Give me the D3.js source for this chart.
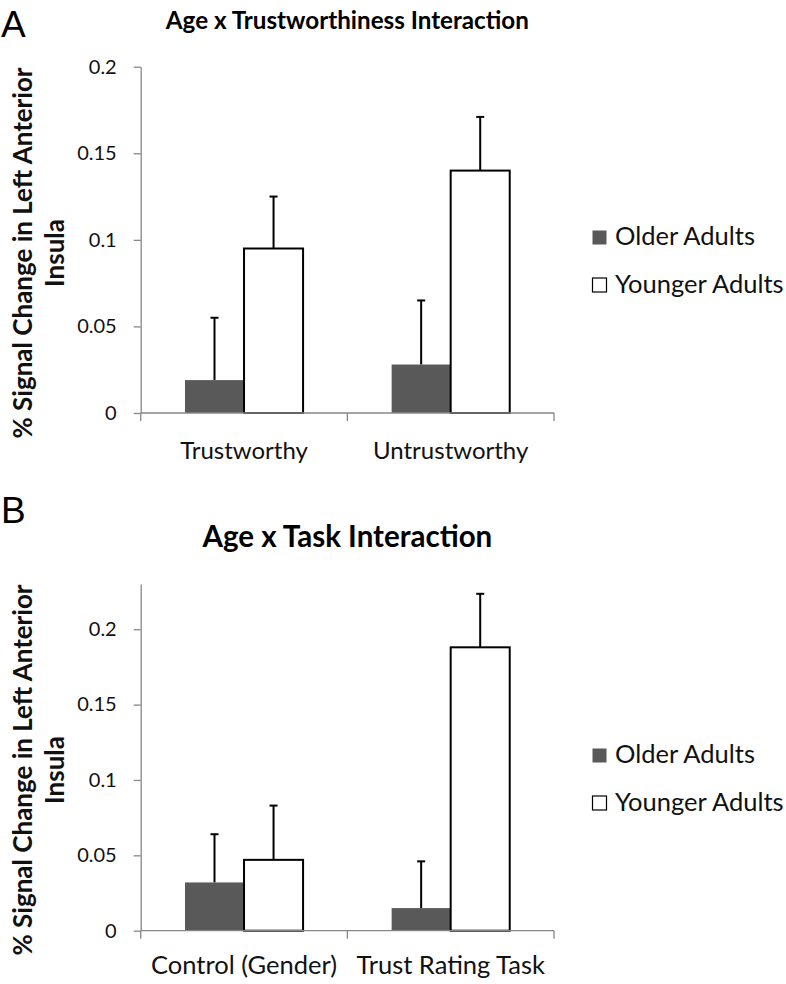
<!DOCTYPE html>
<html><head><meta charset="utf-8">
<script src="https://cdn.jsdelivr.net/npm/d3@7"></script>
<style>
html,body{margin:0;padding:0;background:#fff;}
svg{display:block;font-family:Lato,"Open Sans",sans-serif;}
</style></head>
<body>
<svg id="chart" width="786" height="984"></svg>
<script>
// ---- Data ----
const seriesNames = ["Older Adults", "Younger Adults"];

const titleA = "Age x Trustworthiness Interaction";
const categoriesA = ["Trustworthy", "Untrustworthy"];
const olderA = [0.019, 0.028];
const olderErrA = [0.036, 0.037];
const youngerA = [0.095, 0.140];
const youngerErrA = [0.030, 0.031];
const yMaxA = 0.2;
const ticksA = [0, 0.05, 0.1, 0.15, 0.2];

const titleB = "Age x Task Interaction";
const categoriesB = ["Control (Gender)", "Trust Rating Task"];
const olderB = [0.032, 0.015];
const olderErrB = [0.032, 0.031];
const youngerB = [0.047, 0.188];
const youngerErrB = [0.036, 0.0355];
const yMaxB = 0.23;
const ticksB = [0, 0.05, 0.1, 0.15, 0.2];

const yLabelLines = ["% Signal Change in Left Anterior", "Insula"];

// ---- Drawing ----
const svg = d3.select("#chart");
const colors = {"Older Adults": "#595959", "Younger Adults": "#ffffff"};
const axisColor = "#878787";

function drawPanel(opt) {
  const left = 140.7, right = 554;
  const g = svg.append("g");

  // panel letter
  g.append("text").attr("x", 1).attr("y", opt.letterY)
    .style("font-family", "'Liberation Sans',Arial,sans-serif")
    .style("font-size", "37px").text(opt.letter);

  // title
  g.append("text").attr("x", (left + right) / 2).attr("y", opt.titleY)
    .attr("text-anchor", "middle").style("font-weight", "bold")
    .style("font-size", opt.titleSize + "px").text(opt.title);

  const y = d3.scaleLinear().domain([0, opt.yMax]).range([opt.bottom, opt.top]);
  const x0 = d3.scaleBand().domain(opt.categories).range([left, right]).paddingInner(0).paddingOuter(0);
  const x1 = d3.scaleBand().domain(seriesNames).range([0, x0.bandwidth()]).paddingInner(0).paddingOuter(0.75);

  // y axis
  const ya = g.append("g").attr("transform", `translate(${left},0)`)
    .call(d3.axisLeft(y).tickValues(opt.ticks).tickSize(7).tickSizeOuter(0).tickPadding(17)
      .tickFormat(d3.format("~g")));
  ya.select(".domain").attr("stroke", axisColor).attr("stroke-width", 1.3);
  ya.selectAll(".tick line").attr("stroke", axisColor).attr("stroke-width", 1.3);
  ya.selectAll(".tick text").style("font-size", "20px").style("font-family", "Lato,sans-serif").attr("fill", "#111");

  // y axis label
  const lab = g.append("text")
    .attr("transform", `translate(0,${opt.yLabelCenter}) rotate(-90)`)
    .attr("text-anchor", "middle").style("font-weight", "bold").style("font-size", "26px").attr("fill", "#111");
  lab.selectAll("tspan").data(yLabelLines).join("tspan")
    .attr("x", 0).attr("y", (d, i) => 32 + i * 31.5).text(d => d);

  // bars
  const rows = opt.categories.map((c, i) => ({
    cat: c,
    vals: [
      {s: seriesNames[0], v: opt.older[i], e: opt.olderErr[i]},
      {s: seriesNames[1], v: opt.younger[i], e: opt.youngerErr[i]}
    ]
  }));
  const grp = g.selectAll(".cat").data(rows).join("g")
    .attr("transform", d => `translate(${x0(d.cat)},0)`);

  grp.selectAll(".err").data(d => d.vals).join("g").each(function(d) {
    const cx = x1(d.s) + x1.bandwidth() / 2;
    const e = d3.select(this);
    e.append("line").attr("x1", cx).attr("x2", cx).attr("y1", y(d.v)).attr("y2", y(d.v + d.e))
      .attr("stroke", "#000").attr("stroke-width", 2);
    e.append("line").attr("x1", cx - 4).attr("x2", cx + 4).attr("y1", y(d.v + d.e)).attr("y2", y(d.v + d.e))
      .attr("stroke", "#000").attr("stroke-width", 2);
  });

  grp.selectAll("rect").data(d => d.vals).join("rect")
    .attr("x", d => x1(d.s)).attr("width", x1.bandwidth())
    .attr("y", d => y(d.v)).attr("height", d => y(0) - y(d.v))
    .attr("fill", d => colors[d.s])
    .attr("stroke", d => d.s === seriesNames[1] ? "#000" : "none")
    .attr("stroke-width", 2);

  // x axis
  g.append("line").attr("x1", left).attr("x2", right).attr("y1", y(0)).attr("y2", y(0))
    .attr("stroke", axisColor).attr("stroke-width", 1.3);
  const bounds = opt.categories.map(c => x0(c)).concat([right]);
  g.selectAll(".xt").data(bounds).join("line")
    .attr("x1", d => d).attr("x2", d => d).attr("y1", y(0)).attr("y2", y(0) + 8)
    .attr("stroke", axisColor).attr("stroke-width", 1.3);
  g.selectAll(".xl").data(opt.categories).join("text")
    .attr("x", d => x0(d) + x0.bandwidth() / 2).attr("y", y(0) + opt.xLabelOffset)
    .attr("text-anchor", "middle").style("font-size", opt.xLabelSize + "px").attr("fill", "#111").text(d => d);

  // legend
  const lg = g.selectAll(".lg").data(seriesNames).join("g")
    .attr("transform", (d, i) => `translate(592,${opt.legendY + i * 47.5})`);
  lg.append("rect").attr("x", 0.5).attr("y", -14.5).attr("width", 14).attr("height", 14)
    .attr("fill", d => colors[d]).attr("stroke", d => d === seriesNames[1] ? "#000" : "none").attr("stroke-width", 1.2);
  lg.append("text").attr("x", 23).attr("y", 0).style("font-size", "25.5px").attr("fill", "#111").text(d => d);
}

drawPanel({
  letter: "A", letterY: 36.5, title: titleA, titleY: 29, titleSize: 24.2,
  categories: categoriesA, older: olderA, olderErr: olderErrA, younger: youngerA, youngerErr: youngerErrA,
  yMax: yMaxA, ticks: ticksA, top: 66.7, bottom: 413,
  yLabelCenter: 253, xLabelOffset: 46, xLabelSize: 24, legendY: 245
});
drawPanel({
  letter: "B", letterY: 522.5, title: titleB, titleY: 547, titleSize: 29.5,
  categories: categoriesB, older: olderB, olderErr: olderErrB, younger: youngerB, youngerErr: youngerErrB,
  yMax: yMaxB, ticks: ticksB, top: 584, bottom: 930.7,
  yLabelCenter: 770, xLabelOffset: 43, xLabelSize: 25.5, legendY: 763
});
</script>
</body></html>
